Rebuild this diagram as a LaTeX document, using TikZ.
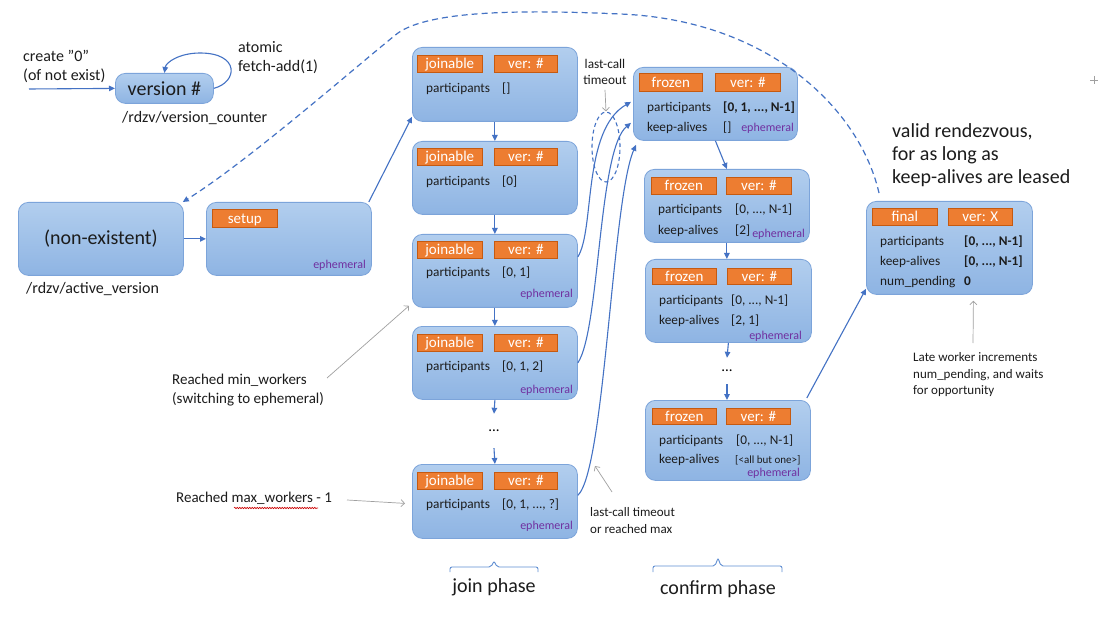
\documentclass[tikz,border=0pt]{standalone}
\usepackage{fontspec}
\setmainfont{Carlito}
\usetikzlibrary{arrows.meta,shapes.geometric,decorations.pathmorphing}
\definecolor{boxtop}{RGB}{178,206,238}
\definecolor{boxbot}{RGB}{142,180,227}
\definecolor{boxline}{RGB}{124,164,218}
\definecolor{tagfill}{RGB}{237,125,49}
\definecolor{tagline}{RGB}{197,90,17}
\definecolor{conn}{RGB}{68,114,196}
\definecolor{bracec}{RGB}{96,142,210}
\definecolor{ephc}{RGB}{112,48,160}
\definecolor{grayc}{RGB}{160,160,160}
\definecolor{txt}{RGB}{28,28,28}
\newcommand{\fsz}[2]{\fontsize{#1}{#2}\selectfont}
\newcommand{\lb}[4]{\node[lbl] (#1) at (#2,#3) {#4};}
\newcommand{\lbb}[4]{\node[lbl,font=\fsz{13.3}{16}\bfseries] (#1) at (#2,#3) {#4};}
\newcommand{\ep}[3]{\node[eph] (#1) at (#2,#3) {ephemeral};}
\newcommand{\tg}[6]{\node[tagbox, minimum width=#5pt, minimum height=#6pt] (#1) at (#2,#3) {#4};}
\begin{document}
\begin{tikzpicture}[x=1pt,y=-1pt,
  box/.style={draw=boxline, line width=0.8pt, rounded corners=10pt, top color=boxtop, bottom color=boxbot, inner sep=0pt, anchor=north west, text=txt},
  tagbox/.style={draw=tagline, line width=0.6pt, fill=tagfill, text=white, inner sep=0pt, anchor=north west, font=\fsz{15}{18}, text height=11pt, text depth=1pt},
  lbl/.style={text=txt, inner sep=0pt, anchor=west, text height=9.5pt, text depth=2.5pt, font=\fsz{13.3}{16}},
  eph/.style={text=ephc, inner sep=0pt, anchor=east, font=\fsz{12}{14}, text height=8.5pt, text depth=2.5pt},
  note/.style={text=txt, inner sep=0pt, align=left},
  arr/.style={draw=conn, line width=1.1pt, -{Triangle[length=6pt,width=5.5pt]}},
  dsh/.style={draw=conn, line width=1.2pt, dash pattern=on 6pt off 4pt, -{Triangle[length=6pt,width=5.5pt]}},
  garr/.style={draw=grayc, line width=0.7pt, -{Straight Barb[length=3.5pt,width=7pt]}},
  brc/.style={draw=bracec, line width=0.9pt, rounded corners=2pt}]
\useasboundingbox (0,0) rectangle (1102,617);
\fill[white] (0,0) rectangle (1102,617);

% ---- version counter
\node[box, minimum width=98pt, minimum height=30pt, font=\fsz{20}{24}] (vbox) at (115,73) {version \#};
\node[note, anchor=west, font=\fsz{16}{19}] (vlab) at (122,118) {/rdzv/version\_counter};
\node[note, anchor=west, font=\fsz{16}{19}] (create) at (23,66.5) {create "0”\\(of not exist)};
\node[note, anchor=west, font=\fsz{16}{19}] (atom) at (238,57.5) {atomic\\fetch-add(1)};
\coordinate (cin) at (29,89);
\draw[arr] (cin) -- (vbox.west);
\draw[arr] (vbox.east) .. controls (238,82) and (240,53) .. (200,53) .. controls (180,53) and (166,62) .. (vbox.north);

% ---- non-existent and setup
\node[box, minimum width=165pt, minimum height=73pt, font=\fsz{20}{24}] (nonex) at (18,202) {(non-existent)};
\node[note, anchor=west, font=\fsz{16}{19}] (alab) at (26,289) {/rdzv/active\_version};
\node[box, minimum width=165pt, minimum height=73pt] (setup) at (206,202) {};
\tg{setupt}{212}{209}{setup}{65}{18}
\ep{setupe}{366}{266}
\draw[arr] (nonex.east) -- (setup.west);

% ---- joinable column
\node[box, minimum width=165pt, minimum height=74pt] (j1) at (412,47) {};
\tg{j1t}{417}{55}{joinable}{65}{17}
\tg{j1v}{494}{55}{ver: \#}{63}{17}
\lb{j1p}{426}{89}{participants}
\lb{j1pv}{502}{89}{[]}

\node[box, minimum width=165pt, minimum height=73pt] (j2) at (412,141) {};
\tg{j2t}{417}{148}{joinable}{65}{17}
\tg{j2v}{494}{148}{ver: \#}{63}{17}
\lb{j2p}{426}{182}{participants}
\lb{j2pv}{502}{182}{[0]}

\node[box, minimum width=165pt, minimum height=73pt] (j3) at (412,234) {};
\tg{j3t}{417}{241}{joinable}{65}{17}
\tg{j3v}{494}{241}{ver: \#}{63}{17}
\lb{j3p}{426}{273}{participants}
\lb{j3pv}{502}{273}{[0, 1]}
\ep{j3e}{573}{295}

\node[box, minimum width=165pt, minimum height=73pt] (j4) at (412,326) {};
\tg{j4t}{417}{334}{joinable}{65}{17}
\tg{j4v}{494}{334}{ver: \#}{63}{17}
\lb{j4p}{426}{367}{participants}
\lb{j4pv}{502}{367}{[0, 1, 2]}
\ep{j4e}{573}{390}

\node[inner sep=0pt, minimum height=34pt, font=\fsz{15}{18}] (jdots) at (494,431) {...};

\node[box, minimum width=165pt, minimum height=74pt] (j5) at (412,464) {};
\tg{j5t}{417}{472}{joinable}{65}{17}
\tg{j5v}{494}{472}{ver: \#}{63}{17}
\lb{j5p}{426}{505}{participants}
\lb{j5pv}{502}{505}{[0, 1, ..., ?]}
\ep{j5e}{573}{526}

\draw[arr] ([xshift=-3pt]setup.north east) -- ([yshift=5pt]j1.south west);
\draw[arr] (j1.south) -- (j2.north);
\draw[arr] (j2.south) -- (j3.north);
\draw[arr] (j3.south) -- (j4.north);
\draw[arr] (j4.south) -- (jdots.north);
\draw[arr] (jdots.south) -- (j5.north);

% ---- frozen column
\node[box, minimum width=164pt, minimum height=73pt] (f1) at (633,67) {};
\tg{f1t}{639}{73}{frozen}{63}{18}
\tg{f1v}{715}{73}{ver: \#}{65}{18}
\lb{f1p}{647}{108}{participants}
\lbb{f1pv}{723}{108}{[0, 1, ..., N-1]}
\lb{f1k}{647}{128}{keep-alives}
\lb{f1kv}{723}{128}{[]}
\ep{f1e}{794}{129}

\node[box, minimum width=165pt, minimum height=73pt] (f2) at (644,169) {};
\tg{f2t}{651}{177}{frozen}{65}{17}
\tg{f2v}{726}{177}{ver: \#}{65}{17}
\lb{f2p}{658}{210}{participants}
\lb{f2pv}{735}{210}{[0, ..., N-1]}
\lb{f2k}{658}{231}{keep-alives}
\lb{f2kv}{735}{231}{[2]}
\ep{f2e}{805}{235}

\node[box, minimum width=166pt, minimum height=83pt] (f3) at (645,259) {};
\tg{f3t}{652}{268}{frozen}{64}{16}
\tg{f3v}{727}{268}{ver: \#}{64}{16}
\lb{f3p}{659}{301}{participants}
\lb{f3pv}{731}{301}{[0, ..., N-1]}
\lb{f3k}{659}{321}{keep-alives}
\lb{f3kv}{731}{321}{[2, 1]}
\ep{f3e}{802}{336}

\node[inner sep=0pt, minimum height=26pt, font=\fsz{15}{18}] (fdots) at (727,371) {...};

\node[box, minimum width=165pt, minimum height=80pt] (f4) at (645,400) {};
\tg{f4t}{652}{408}{frozen}{64}{16}
\tg{f4v}{726}{408}{ver: \#}{64}{16}
\lb{f4p}{659}{441}{participants}
\lb{f4pv}{736}{441}{[0, ..., N-1]}
\lb{f4k}{659}{460}{keep-alives}
\node[lbl, font=\fsz{11}{13}] (f4kv) at (735,460) {[<all but one>]};
\ep{f4e}{800}{473}

\draw[arr] (f1.south) -- (f2.north);
\draw[arr] (f2.south) -- (f2.south |- f3.north);
\draw[arr] (f3.south) -- (fdots.north);
\draw[arr] (fdots.south) -- (fdots.south |- f4.north);

% ---- final
\node[box, minimum width=166pt, minimum height=93pt] (fin) at (866,201) {};
\tg{fint}{872}{208}{final}{65}{17}
\tg{finv}{948}{208}{ver: X}{64}{17}
\lb{finp}{880}{242}{participants}
\lbb{finpv}{964}{242}{[0, ..., N-1]}
\lb{fink}{880}{262}{keep-alives}
\lbb{finkv}{964}{262}{[0, ..., N-1]}
\lb{finn}{880}{282}{num\_pending}
\lbb{finnv}{964}{282}{0}
\node[note, anchor=west, font=\fsz{20}{23}] (valid) at (892,155) {valid rendezvous,\\for as long as\\keep-alives are leased};
\node[note, anchor=west, font=\fsz{13}{16.5}] (late) at (913,375) {Late worker increments\\num\_pending, and waits\\for opportunity};
\coordinate (latea) at (973,343);
\draw[garr] (latea) -- ([xshift=24pt,yshift=-6pt]fin.south);
\draw[arr] ([xshift=-4pt,yshift=2pt]f4.north east) -- ([yshift=6pt]fin.south west);

% ---- join -> frozen curves
\draw[arr] ([yshift=14pt]j3.east) .. controls (595,230) and (582,130) .. ([xshift=-2pt,yshift=2pt]f1.west);
\draw[arr] (j4.east) .. controls (600,330) and (598,150) .. ([xshift=-2pt,yshift=-19pt]f1.west);
\draw[arr] ([yshift=6pt]j5.east) .. controls (605,470) and (612,200) .. ([xshift=3pt,yshift=-4pt]f1.south west);

% ---- last-call timeout ellipse
\node[draw=conn, line width=1.1pt, dash pattern=on 4pt off 3pt, ellipse, minimum width=28pt, minimum height=70pt, inner sep=0pt] (ell) at (606,147) {};
\node[note, align=center, font=\fsz{13.3}{16}] (lct) at (605,72) {last-call\\timeout};
\draw[garr] ([yshift=-5pt]lct.south) -- (ell.north);

% ---- side notes
\node[note, anchor=west, font=\fsz{15}{19}] (minw) at (172,390.5) {Reached min\_workers\\(switching to ephemeral)};
\coordinate (minwa) at (327,378);
\draw[garr] (minwa) -- ([xshift=-3pt,yshift=2pt]j3.south west);
\node[note, anchor=west, font=\fsz{15}{18}] (maxw) at (176,498) {Reached max\_workers - 1};
\draw[red!80!black, line width=0.6pt, decorate, decoration={snake, amplitude=0.7pt, segment length=2.5pt}] (234,508) -- (318,508);
\coordinate (maxwa) at (347,500);
\draw[garr] (maxwa) -- ([xshift=-7pt,yshift=-2pt]j5.west);
\node[note, anchor=west, font=\fsz{13}{17}] (lcm) at (590,520.5) {last-call timeout\\or reached max};
\coordinate (lcma) at (612,492);
\coordinate (lcmb) at (595,466);
\draw[garr] (lcma) -- (lcmb);

% ---- dashed return
\draw[dsh] ([xshift=13pt,yshift=8pt]fin.north west) .. controls (860,110) and (770,20) .. (620,14)
  .. controls (510,9) and (428,12) .. (398,33)
  .. controls (360,63) and (250,160) .. ([xshift=-1pt]nonex.north east);

% ---- phase braces
\draw[brc] (450,572) -- (450,567) -- (491,567) -- (494,561) -- (497,567) -- (538,567) -- (538,572);
\node[note, font=\fsz{20}{24}] (jphase) at (494,587) {join phase};
\draw[brc] (653,572) -- (653,566) -- (715,566) -- (718,558) -- (721,566) -- (782,566) -- (782,572);
\node[note, font=\fsz{20}{24}] (cphase) at (718,589) {confirm phase};

% ---- cursor mark
\draw[grayc, line width=0.7pt] (1090,80) -- (1098,80) (1094,76) -- (1094,84);
\end{tikzpicture}
\end{document}
